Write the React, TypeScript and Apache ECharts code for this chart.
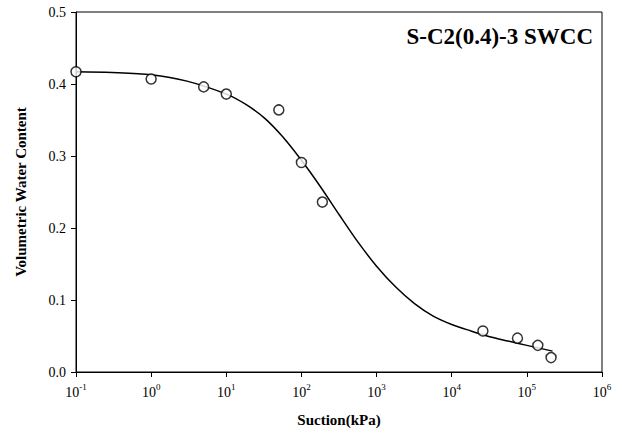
import React, { useEffect, useRef } from "react";
import * as echarts from "echarts";

// Measured points: suction (kPa) and volumetric water content
const suction = [0.1, 1, 5, 10, 50, 100, 190, 26000, 75000, 140000, 210000];
const waterContent = [0.417, 0.407, 0.396, 0.386, 0.364, 0.291, 0.236, 0.057, 0.047, 0.037, 0.02];

// Fitted SWCC curve read along its length
const fitSuction = [
  0.1, 0.3, 1, 3, 10, 18, 32, 56, 100, 180, 320, 560, 1000, 1800, 3200, 5600,
  10000, 18000, 32000, 56000, 100000, 220000,
];
const fitContent = [
  0.417, 0.416, 0.413, 0.404, 0.386, 0.372, 0.353, 0.327, 0.294, 0.257, 0.218, 0.181, 0.147, 0.118, 0.095, 0.078,
  0.066, 0.057, 0.049, 0.043, 0.037, 0.029,
];

const yTicks = [0, 0.1, 0.2, 0.3, 0.4, 0.5];

const FONT = "'Liberation Serif', 'Times New Roman', serif";

export default function App() {
  const ref = useRef<HTMLDivElement>(null);

  useEffect(() => {
    if (!ref.current) return;
    const chart = echarts.init(ref.current, undefined, { renderer: "svg" });

    const measured = suction.map((s, i) => [s, waterContent[i]]);
    const fitted = fitSuction.map((s, i) => [s, fitContent[i]]);

    chart.setOption({
      animation: false,
      backgroundColor: "#fff",
      textStyle: { fontFamily: FONT, color: "#000" },
      grid: {
        left: 76,
        right: 20,
        top: 12,
        bottom: 66,
        show: true,
        borderColor: "#000",
        borderWidth: 1,
        backgroundColor: "transparent",
      },
      graphic: [
        {
          type: "text",
          right: 29,
          top: 25,
          style: {
            text: "S-C2(0.4)-3 SWCC",
            font: `bold 23px ${FONT}`,
            fill: "#000",
          },
        },
      ],
      xAxis: {
        type: "log",
        logBase: 10,
        min: 0.1,
        max: 1000000,
        splitNumber: 7,
        name: "Suction(kPa)",
        nameLocation: "middle",
        nameGap: 40,
        nameTextStyle: { fontFamily: FONT, fontWeight: "bold", fontSize: 15, color: "#000" },
        axisLine: { show: true, lineStyle: { color: "#000", width: 1 } },
        axisTick: { show: true, inside: false, length: 5, lineStyle: { color: "#000" } },
        minorTick: { show: false },
        splitLine: { show: false },
        axisLabel: {
          margin: 10,
          color: "#000",
          fontFamily: FONT,
          formatter: (v: number) => {
            const e = Math.round(Math.log10(v));
            return `{b|10}{s|${e}}`;
          },
          rich: {
            b: { fontFamily: FONT, fontSize: 14, color: "#000", verticalAlign: "bottom", lineHeight: 17 },
            s: { fontFamily: FONT, fontSize: 9, color: "#000", verticalAlign: "top", lineHeight: 17 },
          },
        },
      },
      yAxis: {
        type: "value",
        min: yTicks[0],
        max: yTicks[yTicks.length - 1],
        interval: 0.1,
        name: "Volumetric Water Content",
        nameLocation: "middle",
        nameGap: 48,
        nameRotate: 90,
        nameTextStyle: { fontFamily: FONT, fontWeight: "bold", fontSize: 15, color: "#000" },
        axisLine: { show: true, lineStyle: { color: "#000", width: 1 } },
        axisTick: { show: true, inside: false, length: 5, lineStyle: { color: "#000" } },
        splitLine: { show: false },
        axisLabel: {
          margin: 10,
          color: "#000",
          fontFamily: FONT,
          fontSize: 14,
          formatter: (v: number) => v.toFixed(1),
        },
      },
      series: [
        {
          type: "line",
          data: fitted,
          smooth: 0.3,
          showSymbol: false,
          lineStyle: { color: "#000", width: 1.5 },
          silent: true,
          z: 2,
        },
        {
          type: "scatter",
          data: measured,
          symbol: "circle",
          symbolSize: 10,
          clip: false,
          itemStyle: { color: "#fff", borderColor: "#000", borderWidth: 1.5 },
          z: 3,
        },
      ],
    });

    return () => chart.dispose();
  }, []);

  return (
    <div
      ref={ref}
      style={{ position: "fixed", left: 0, top: 0, width: 622, height: 438 }}
    />
  );
}
